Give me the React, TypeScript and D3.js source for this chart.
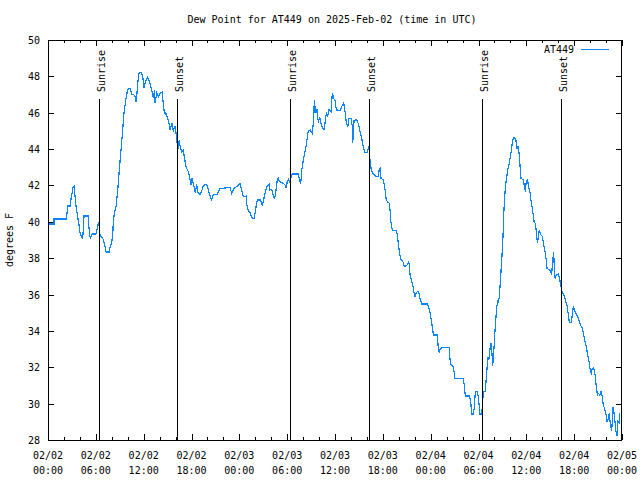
import React from "react";
import * as d3 from "d3";

// hours since 2025-02-02 00:00 UTC
const hours = [
  0, 0.75, 0.75, 2.35, 2.38, 2.51, 2.76, 2.89, 3.01, 3.14, 3.26, 3.39, 3.51, 3.76, 3.89, 4.01, 4.35, 4.52, 5.02, 5.14,
  5.31, 5.52, 6.02, 6.23, 6.36, 6.52, 6.9, 7.15, 7.28, 7.69, 7.78, 7.99, 8.12, 8.19, 8.32, 8.53, 8.66, 8.78, 8.94, 9.16,
  9.37, 9.53, 9.7, 9.91, 10.07, 10.32, 10.54, 10.88, 11.04, 11.16, 11.38, 11.67, 11.88, 12.04, 12.17, 12.46, 12.71, 12.88, 13.05, 13.21,
  13.38, 13.42, 13.64, 13.84, 14.05, 14.3, 14.55, 14.71, 14.76, 15.14, 15.3, 15.55, 15.72, 15.93, 16.14, 16.27, 16.47, 16.56, 16.77, 16.97,
  17.06, 17.31, 17.6, 17.81, 17.94, 18.06, 18.31, 18.48, 18.65, 18.82, 19.07, 19.32, 19.48, 19.91, 20.23, 20.49, 20.74, 21.24, 21.58, 22.83,
  23.04, 23.33, 23.75, 24.09, 24.3, 24.5, 24.84, 25.0, 25.25, 25.34, 25.63, 25.88, 26.06, 26.26, 26.68, 26.88, 27.13, 27.43, 27.72, 27.85,
  28.06, 28.39, 28.56, 28.73, 28.89, 29.01, 29.52, 29.73, 29.89, 29.98, 30.14, 30.27, 30.39, 30.65, 31.4, 31.52, 31.7, 31.82, 32.03, 32.15,
  32.33, 32.49, 32.65, 32.9, 33.15, 33.33, 33.4, 33.58, 33.74, 33.91, 34.08, 34.25, 34.46, 34.62, 34.75, 34.91, 35.09, 35.25, 35.5, 35.66,
  35.84, 36.0, 36.17, 36.34, 36.63, 36.84, 37.09, 37.26, 37.42, 37.6, 37.76, 38.01, 38.17, 38.22, 38.39, 38.72, 38.93, 39.14, 39.35, 39.55,
  39.77, 40.05, 40.27, 40.39, 40.56, 40.9, 41.15, 41.4, 41.56, 41.65, 41.77, 42.06, 42.24, 42.4, 42.56, 42.81, 42.9, 42.99, 43.11, 43.32,
  43.65, 43.82, 43.94, 44.07, 44.24, 44.49, 44.66, 44.91, 45.07, 45.25, 45.32, 45.41, 45.57, 45.75, 45.91, 46.08, 46.16, 46.33, 46.5, 46.66,
  46.88, 47.58, 47.76, 47.92, 48.08, 48.26, 48.33, 48.83, 48.96, 49.08, 49.17, 49.39, 50.34, 50.43, 50.59, 50.77, 50.93, 51.05, 52.1, 52.18,
  52.35, 52.85, 53.02, 53.15, 53.35, 53.48, 53.6, 53.85, 53.98, 54.1, 54.19, 54.4, 54.48, 54.6, 54.82, 54.94, 55.03, 55.1, 55.19, 55.28,
  55.36, 55.45, 55.57, 55.7, 55.78, 55.86, 55.98, 56.11, 56.28, 56.41, 56.49, 56.61, 56.74, 56.86, 56.95, 57.08, 57.2, 57.33, 57.45, 57.62,
  57.74, 57.87, 57.99, 58.12, 58.24, 58.37, 58.54, 58.7, 58.83, 58.96, 59.08, 59.33, 59.62, 59.88, 59.96, 60.13, 60.25, 60.47, 60.63, 60.81,
  60.97, 61.13, 61.3, 61.38, 61.5, 61.63, 61.81, 61.97, 62.14, 62.31, 62.47, 62.6, 62.76, 62.97, 63.18, 63.31, 63.43, 63.51, 63.6, 63.76,
  64.01, 64.19, 64.35, 64.52, 64.77, 64.94, 65.11, 65.27, 65.4, 65.61, 65.77, 65.9, 66.02, 66.2, 66.4, 66.53, 66.77, 67.03, 67.2, 67.36,
  67.53, 67.7, 67.86, 68.03, 68.15, 68.28, 68.45, 68.62, 68.78, 68.91, 69.03, 69.21, 69.37, 69.5, 69.62, 69.79, 69.96, 70.12, 70.29, 70.41,
  70.54, 70.71, 70.88, 71.0, 71.13, 71.25, 71.38, 71.5, 71.63, 71.72,
];

const dewF = [
  39.88, 39.88, 40.16, 40.16, 40.49, 40.87, 40.87, 41.26, 41.53, 41.92, 41.97, 41.42, 40.87, 40.16, 39.83, 39.39, 39.06, 40.32, 40.32, 39.66,
  39.06, 39.33, 39.33, 39.77, 39.99, 39.28, 39.06, 38.62, 38.34, 38.34, 38.62, 38.84, 39.33, 39.94, 40.49, 40.82, 41.37, 41.92, 42.85, 43.95,
  45.05, 45.99, 46.54, 47.09, 47.32, 47.32, 47.01, 46.96, 46.61, 47.09, 48.17, 48.24, 48.02, 47.36, 47.64, 47.95, 47.76, 47.47, 47.16, 46.79,
  47.25, 46.55, 47.07, 46.88, 47.07, 47.14, 46.15, 45.88, 46.04, 45.51, 45.05, 45.42, 45.01, 45.23, 44.65, 43.91, 44.5, 44.17, 43.86, 43.95,
  43.68, 43.03, 42.76, 42.34, 42.03, 42.39, 41.97, 41.57, 42.08, 41.6, 41.48, 41.75, 42.01, 42.06, 41.57, 41.2, 41.48, 41.53, 41.84, 41.88,
  41.57, 41.84, 41.97, 42.12, 41.75, 41.38, 41.42, 40.74, 40.56, 40.5, 40.19, 40.19, 40.74, 41.2, 41.2, 40.87, 41.38, 41.9, 42.08, 41.75,
  41.79, 41.24, 41.57, 42.21, 42.45, 42.21, 42.12, 42.03, 41.84, 42.15, 42.34, 42.21, 42.34, 42.63, 42.63, 42.34, 42.08, 42.81, 43.4, 43.68,
  44.04, 44.54, 45.01, 45.05, 44.87, 45.6, 46.7, 45.97, 46.19, 45.45, 45.78, 45.42, 45.14, 45.09, 45.45, 45.97, 45.82, 46.19, 46.06, 47.07,
  46.79, 46.66, 46.15, 46.15, 46.11, 46.33, 46.55, 46.06, 45.45, 45.23, 45.69, 45.69, 45.27, 44.32, 45.56, 45.64, 45.38, 44.96, 44.59, 44.13,
  43.8, 43.8, 44.17, 43.4, 42.81, 42.58, 42.48, 42.48, 42.89, 42.94, 42.39, 42.3, 41.9, 41.29, 41.11, 41.02, 40.65, 40.1, 39.64, 39.51,
  39.51, 39.28, 38.82, 38.36, 37.94, 37.86, 37.57, 37.57, 37.64, 37.81, 37.63, 37.08, 36.84, 36.53, 36.1, 35.85, 36.07, 36.16, 36.16, 35.79,
  35.48, 35.48, 35.3, 35.0, 34.6, 34.05, 33.78, 33.78, 33.04, 32.77, 32.99, 33.09, 33.09, 32.4, 32.09, 32.09, 31.76, 31.39, 31.39, 31.12,
  30.42, 30.42, 30.11, 29.43, 29.43, 29.8, 30.66, 30.66, 30.38, 29.8, 29.43, 29.43, 29.8, 30.66, 30.66, 31.21, 31.67, 32.13, 32.58, 32.4,
  32.62, 33.04, 33.35, 32.68, 32.07, 32.49, 33.32, 34.33, 35.24, 35.7, 35.52, 35.88, 36.71, 37.53, 38.18, 39.28, 40.74, 41.66, 42.21, 42.7,
  43.03, 43.25, 43.58, 43.95, 44.35, 44.59, 44.65, 44.46, 44.04, 44.13, 43.8, 42.39, 42.3, 41.66, 42.12, 42.34, 42.03, 41.57, 41.05, 40.56,
  40.01, 39.92, 39.28, 38.82, 39.15, 39.55, 39.28, 39.22, 38.85, 38.45, 37.99, 37.44, 37.39, 37.31, 37.13, 37.86, 38.36, 37.44, 36.89, 37.11,
  37.13, 36.84, 36.43, 36.1, 35.92, 35.61, 35.37, 34.88, 34.45, 34.45, 34.88, 35.37, 35.15, 35.0, 34.82, 34.69, 34.33, 34.14, 33.78, 33.41,
  33.1, 32.68, 32.31, 31.8, 31.67, 31.94, 31.98, 31.58, 30.93, 30.48, 30.57, 30.48, 30.66, 30.42, 30.02, 29.74, 29.5, 29.01, 29.19, 29.47,
  28.83, 28.51, 29.83, 29.5, 28.95, 28.46, 28.22, 29.01, 28.95, 29.47,
];

const sunEventHours = [6.43, 16.18, 30.39, 40.3, 54.48, 64.39];
const sunEventLabels = ["Sunrise", "Sunset", "Sunrise", "Sunset", "Sunrise", "Sunset"];

const xTickDates = ["02/02", "02/02", "02/02", "02/02", "02/03", "02/03", "02/03", "02/03", "02/04", "02/04", "02/04", "02/04", "02/05"];
const xTickTimes = ["00:00", "06:00", "12:00", "18:00", "00:00", "06:00", "12:00", "18:00", "00:00", "06:00", "12:00", "18:00", "00:00"];
const yTicks = [28, 30, 32, 34, 36, 38, 40, 42, 44, 46, 48, 50];

const title = "Dew Point for AT449 on 2025-Feb-02 (time in UTC)";
const yLabel = "degrees F";
const seriesName = "AT449";

export default function App() {
  const W = 640, H = 480;
  const L = 48, R = 622, T = 40, B = 440;
  const x = d3.scaleLinear().domain([0, 72]).range([L, R]);
  const y = d3.scaleLinear().domain([28, 50]).range([B, T]);
  const font = "'DejaVu Sans Mono', monospace";
  const lineColor = "#0a84ff";

  const pts = hours.map((h, i) => [h, dewF[i]] as [number, number]);
  const path = d3
    .line<[number, number]>()
    .x((d) => x(d[0]))
    .y((d) => y(d[1]))(pts) || "";

  const minorTicks = d3.range(0, 73, 2);
  const majorTicks = d3.range(0, 73, 6);

  return (
    <svg
      width={W}
      height={H}
      style={{ position: "absolute", left: 0, top: 0, background: "#fff" }}
      fontFamily={font}
      fontSize={10}
    >
      <rect x={0} y={0} width={W} height={H} fill="#fff" />
      <text x={W / 2 + 12} y={23} textAnchor="middle" fill="#000">
        {title}
      </text>
      <text
        transform={`translate(13,${(T + B) / 2}) rotate(-90)`}
        textAnchor="middle"
        fill="#000"
      >
        {yLabel}
      </text>

      <g shapeRendering="crispEdges" stroke="#000">
        {yTicks.map((t) => (
          <g key={"y" + t}>
            <line x1={L} x2={L + 6} y1={Math.round(y(t)) + 0.5} y2={Math.round(y(t)) + 0.5} />
            <line x1={R - 6} x2={R} y1={Math.round(y(t)) + 0.5} y2={Math.round(y(t)) + 0.5} />
          </g>
        ))}
        {minorTicks.map((t) => {
          const major = t % 6 === 0;
          const len = major ? 6 : 3;
          const px = Math.round(x(t)) + 0.5;
          return (
            <g key={"x" + t}>
              <line x1={px} x2={px} y1={B} y2={B - len} />
              <line x1={px} x2={px} y1={T} y2={T + len} />
            </g>
          );
        })}
      </g>

      {yTicks.map((t) => (
        <text key={"yl" + t} x={L - 8} y={y(t) + 4} textAnchor="end" fill="#000">
          {t}
        </text>
      ))}
      {majorTicks.map((t, i) => (
        <g key={"xl" + t}>
          <text x={x(t)} y={459} textAnchor="middle" fill="#000">
            {xTickDates[i]}
          </text>
          <text x={x(t)} y={474} textAnchor="middle" fill="#000">
            {xTickTimes[i]}
          </text>
        </g>
      ))}

      <path d={path} fill="none" stroke={lineColor} strokeWidth={1.2} shapeRendering="crispEdges" />

      {sunEventHours.map((h, i) => {
        const px = Math.round(x(h)) + 0.5;
        return (
          <g key={"s" + i}>
            <line x1={px} x2={px} y1={99} y2={B} stroke="#000" strokeWidth={1} shapeRendering="crispEdges" />
            <text
              transform={`translate(${px + 5},92) rotate(-90)`}
              textAnchor="start"
              fill="#000"
            >
              {sunEventLabels[i]}
            </text>
          </g>
        );
      })}

      <text x={574} y={53} textAnchor="end" fill="#000">
        {seriesName}
      </text>
      <line x1={581} x2={609} y1={49.5} y2={49.5} stroke={lineColor} strokeWidth={1} shapeRendering="crispEdges" />

      <rect
        x={L + 0.5}
        y={T + 0.5}
        width={R - L - 1}
        height={B - T}
        fill="none"
        stroke="#000"
        strokeWidth={1}
        shapeRendering="crispEdges"
      />
    </svg>
  );
}
